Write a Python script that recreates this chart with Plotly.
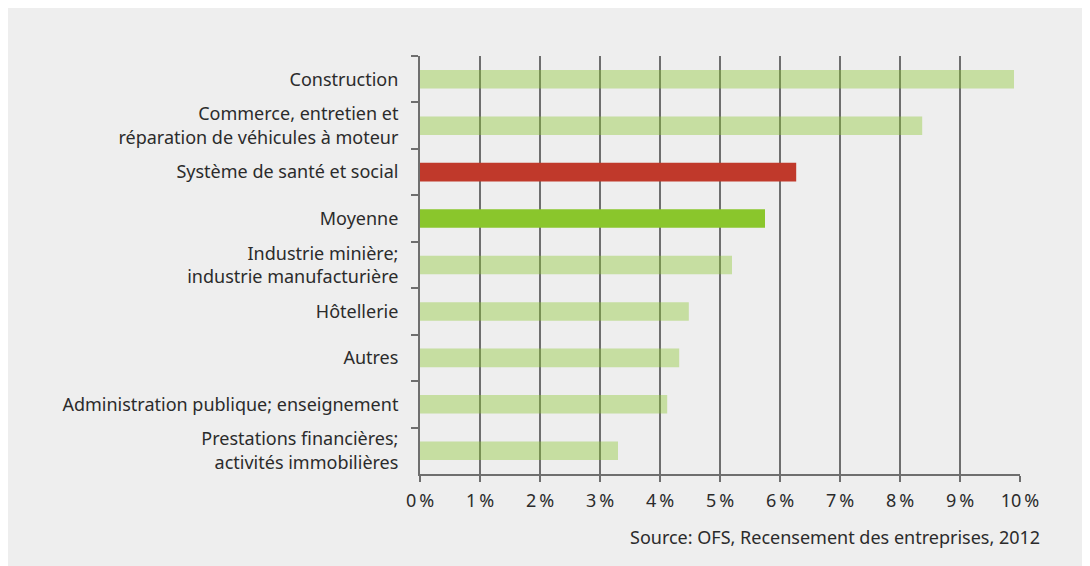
import plotly.graph_objects as go

# categories top to bottom
categories = [
    "Construction",
    "Commerce, entretien et<br>réparation de véhicules à moteur",
    "Système de santé et social",
    "Moyenne",
    "Industrie minière;<br>industrie manufacturière",
    "Hôtellerie",
    "Autres",
    "Administration publique; enseignement",
    "Prestations financières;<br>activités immobilières",
]
values = [9.9, 8.37, 6.27, 5.75, 5.2, 4.48, 4.32, 4.12, 3.3]
highlight = ["light", "light", "red", "green", "light", "light", "light", "light", "light"]
x_ticks = list(range(0, 11))
x_labels = [f"{t}\u2009%" for t in x_ticks]
source_text = "Source: OFS, Recensement des entreprises, 2012"

palette = {
    "light": "rgba(138,198,44,0.4)",
    "red": "#c0392b",
    "green": "#8ac62c",
}
AXIS = "#6e6e6e"
BG = "#eeeeee"
TXT = "#2b2b2b"
FONT = "Noto Sans"

fig = go.Figure(go.Bar(
    x=values,
    y=categories,
    orientation="h",
    width=0.4,
    marker=dict(color=[palette[h] for h in highlight], line=dict(width=0)),
    hoverinfo="x+y",
))

# page body adds an 8px margin, so the figure is a bit smaller than the window
fig.update_layout(
    width=1082,
    height=558,
    paper_bgcolor=BG,
    plot_bgcolor=BG,
    margin=dict(l=412, r=70, t=48, b=92),
    font=dict(family=FONT, size=18, color=TXT),
    showlegend=False,
    annotations=[dict(
        text=source_text, xref="paper", yref="paper",
        x=1.037, y=-0.151, xanchor="right", yanchor="middle",
        showarrow=False, font=dict(family=FONT, size=18, color=TXT),
    )],
)

fig.update_xaxes(
    range=[0, 10],
    tickvals=x_ticks,
    ticktext=x_labels,
    showgrid=True,
    gridcolor=AXIS,
    gridwidth=2,
    showline=True,
    linecolor=AXIS,
    linewidth=2,
    ticks="outside",
    ticklen=6,
    tickwidth=2,
    tickcolor=AXIS,
    ticklabelstandoff=3,
    zeroline=False,
    fixedrange=True,
)

fig.update_yaxes(
    autorange="reversed",
    showgrid=False,
    showline=True,
    linecolor=AXIS,
    linewidth=2,
    ticks="outside",
    tickson="boundaries",
    ticklen=7,
    tickwidth=2,
    tickcolor=AXIS,
    ticklabelstandoff=16,
    fixedrange=True,
)

fig.write_html("out.html")
